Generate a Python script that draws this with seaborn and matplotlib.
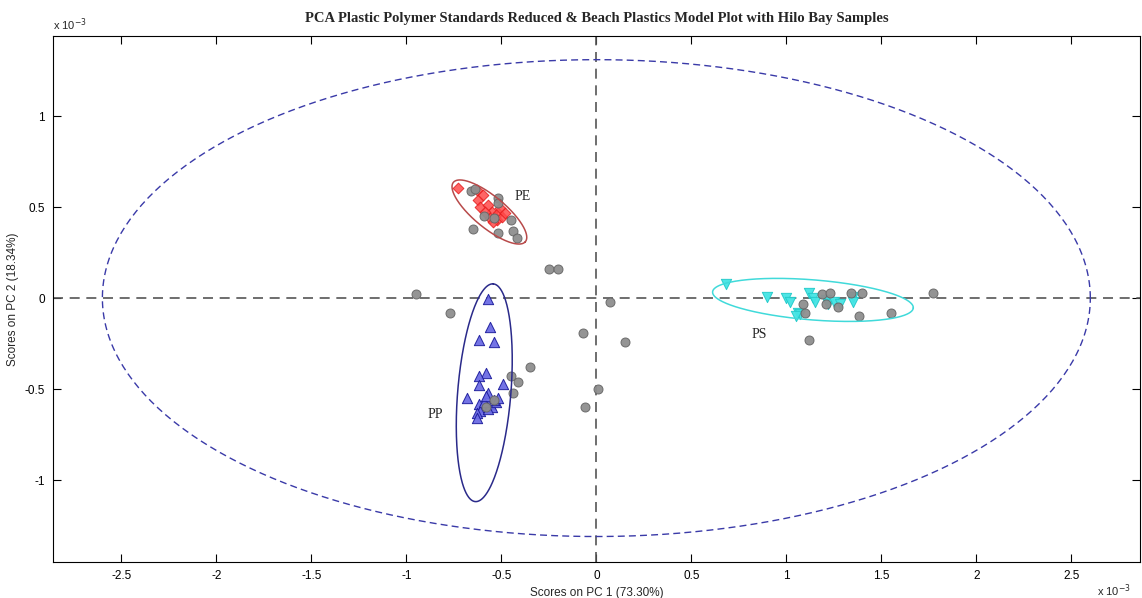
import numpy as np
import pandas as pd
import matplotlib
matplotlib.use("Agg")
import matplotlib.pyplot as plt
import seaborn as sns

# Scores (units of 1e-3) for the polymer standards and the Hilo Bay samples
pe_pc1 = [-0.726, -0.626, -0.621, -0.595, -0.611, -0.568, -0.547, -0.532, -0.516, -0.521,
          -0.495, -0.505, -0.558, -0.584, -0.479, -0.542]
pe_pc2 = [0.604, 0.593, 0.538, 0.566, 0.500, 0.511, 0.473, 0.445, 0.467, 0.429,
          0.445, 0.495, 0.440, 0.473, 0.467, 0.418]

pp_pc1 = [-0.57, -0.56, -0.62, -0.54, -0.58, -0.62, -0.62, -0.49, -0.57, -0.68,
          -0.62, -0.60, -0.58, -0.56, -0.55, -0.53, -0.61, -0.57, -0.59, -0.54,
          -0.52, -0.63, -0.58, -0.63]
pp_pc2 = [-0.005, -0.16, -0.23, -0.24, -0.41, -0.43, -0.48, -0.47, -0.52, -0.55,
          -0.58, -0.60, -0.59, -0.58, -0.60, -0.57, -0.62, -0.61, -0.57, -0.56,
          -0.55, -0.63, -0.54, -0.66]

ps_pc1 = [0.68, 0.90, 1.00, 1.02, 1.12, 1.14, 1.15, 1.21, 1.22, 1.25,
          1.28, 1.35, 1.35, 1.06, 1.07, 1.05]
ps_pc2 = [0.08, 0.005, 0.0, -0.02, 0.03, 0.0, -0.02, -0.01, -0.03, -0.02,
          -0.03, 0.005, -0.02, -0.08, -0.09, -0.10]

hilo_pc1 = [-0.66, -0.64, -0.52, -0.52, -0.59, -0.54, -0.45, -0.65, -0.52, -0.44, -0.42,
            -0.25, -0.20, -0.95, -0.77, 0.07, -0.07, 0.15, 0.01, -0.06,
            -0.35, -0.45, -0.41, -0.44, -0.54, -0.58,
            1.09, 1.10, 1.19, 1.23, 1.21, 1.27, 1.34, 1.40, 1.38, 1.55, 1.77, 1.12]
hilo_pc2 = [0.59, 0.60, 0.55, 0.52, 0.45, 0.44, 0.43, 0.38, 0.36, 0.37, 0.33,
            0.16, 0.16, 0.02, -0.08, -0.02, -0.19, -0.24, -0.50, -0.60,
            -0.38, -0.43, -0.46, -0.52, -0.56, -0.60,
            -0.03, -0.08, 0.02, 0.03, -0.03, -0.05, 0.03, 0.03, -0.10, -0.08, 0.03, -0.23]

# Confidence ellipses: centre, semi-axes, rotation (deg)
ell_names = ["PE", "PP", "PS", "model"]
ell_cx = [-0.563, -0.59, 1.14, 0.0]
ell_cy = [0.473, -0.52, -0.01, 0.0]
ell_a = [0.25, 0.60, 0.53, 2.60]
ell_b = [0.085, 0.14, 0.11, 1.31]
ell_ang = [-41.0, 85.5, -4.8, 0.0]

xticks = [-2.5, -2, -1.5, -1, -0.5, 0, 0.5, 1, 1.5, 2, 2.5]
yticks = [-1, -0.5, 0, 0.5, 1]

sns.set_style("white")
plt.rcParams["font.family"] = ["Liberation Sans Narrow", "Liberation Sans", "DejaVu Sans"]

fig = plt.figure(figsize=(11.42, 5.98), dpi=100)
ax = fig.add_axes([0.0464, 0.0602, 0.9516, 0.8796])

df = pd.concat([
    pd.DataFrame({"pc1": pe_pc1, "pc2": pe_pc2, "grp": "PE"}),
    pd.DataFrame({"pc1": pp_pc1, "pc2": pp_pc2, "grp": "PP"}),
    pd.DataFrame({"pc1": ps_pc1, "pc2": ps_pc2, "grp": "PS"}),
    pd.DataFrame({"pc1": hilo_pc1, "pc2": hilo_pc2, "grp": "Hilo"}),
], ignore_index=True)

styles = {
    "PE": dict(marker="D", s=30, color="#ff4a4a", edgecolor="#e41c1c", alpha=0.85),
    "PP": dict(marker="^", s=55, color="#6c6ce4", edgecolor="#1c1c9c", alpha=0.95),
    "PS": dict(marker="v", s=55, color="#44e4e4", edgecolor="#22caca", alpha=0.95),
    "Hilo": dict(marker="o", s=42, color="#8e8e8e", edgecolor="#676767", alpha=0.95),
}

# reference lines
ax.axhline(0, color="#555555", lw=1.2, ls=(0, (6, 4)), zorder=1)
ax.axvline(0, color="#555555", lw=1.2, ls=(0, (6, 4)), zorder=1)

for g in ["PE", "PP", "PS", "Hilo"]:
    st = styles[g]
    sns.scatterplot(data=df[df.grp == g], x="pc1", y="pc2", ax=ax,
                    marker=st["marker"], s=st["s"], color=st["color"],
                    edgecolor=st["edgecolor"], linewidth=0.7, alpha=st["alpha"],
                    legend=False, zorder=3)

ell_colors = ["#b84a4a", "#2a2a8a", "#40dada", "#3a3aa8"]
t = np.linspace(0, 2 * np.pi, 400)
for name, cx, cy, a, b, ang, col in zip(ell_names, ell_cx, ell_cy, ell_a, ell_b, ell_ang, ell_colors):
    th = np.deg2rad(ang)
    ex = cx + a * np.cos(t) * np.cos(th) - b * np.sin(t) * np.sin(th)
    ey = cy + a * np.cos(t) * np.sin(th) + b * np.sin(t) * np.cos(th)
    if name == "model":
        ax.plot(ex, ey, color=col, lw=1.0, ls=(0, (5, 3)), zorder=2)
    else:
        ax.plot(ex, ey, color=col, lw=1.1, zorder=4)

serif = ["Liberation Serif", "DejaVu Serif"]
ax.text(-0.39, 0.56, "PE", fontsize=10, family=serif, ha="center", va="center")
ax.text(-0.85, -0.64, "PP", fontsize=10, family=serif, ha="center", va="center")
ax.text(0.86, -0.20, "PS", fontsize=10, family=serif, ha="center", va="center")

ax.set_xlim(-2.86, 2.86)
ax.set_ylim(-1.45, 1.44)
ax.set_xticks(xticks)
ax.set_yticks(yticks)
ax.set_xticklabels([f"{v:g}" for v in xticks])
ax.set_yticklabels([f"{v:g}" for v in yticks])
ax.tick_params(direction="in", length=6, width=0.8, labelsize=8.5, colors="black",
               top=True, right=True, bottom=True, left=True, pad=6)
for sp in ax.spines.values():
    sp.set_visible(True)
    sp.set_color("black")
    sp.set_linewidth(0.8)

ax.set_xlabel("Scores on PC 1 (73.30%)", fontsize=8.5, labelpad=3)
ax.set_ylabel("Scores on PC 2 (18.34%)", fontsize=8.5, labelpad=4)
ax.set_title("PCA Plastic Polymer Standards Reduced & Beach Plastics Model Plot with Hilo Bay Samples",
             fontsize=10.5, fontweight="bold", family=serif, pad=10)

fig.text(0.046, 0.950, r"x 10$^{-3}$", fontsize=8, ha="left", va="baseline")
fig.text(0.990, 0.004, r"x 10$^{-3}$", fontsize=8, ha="right", va="baseline")

fig.savefig("out.png", dpi=100)
